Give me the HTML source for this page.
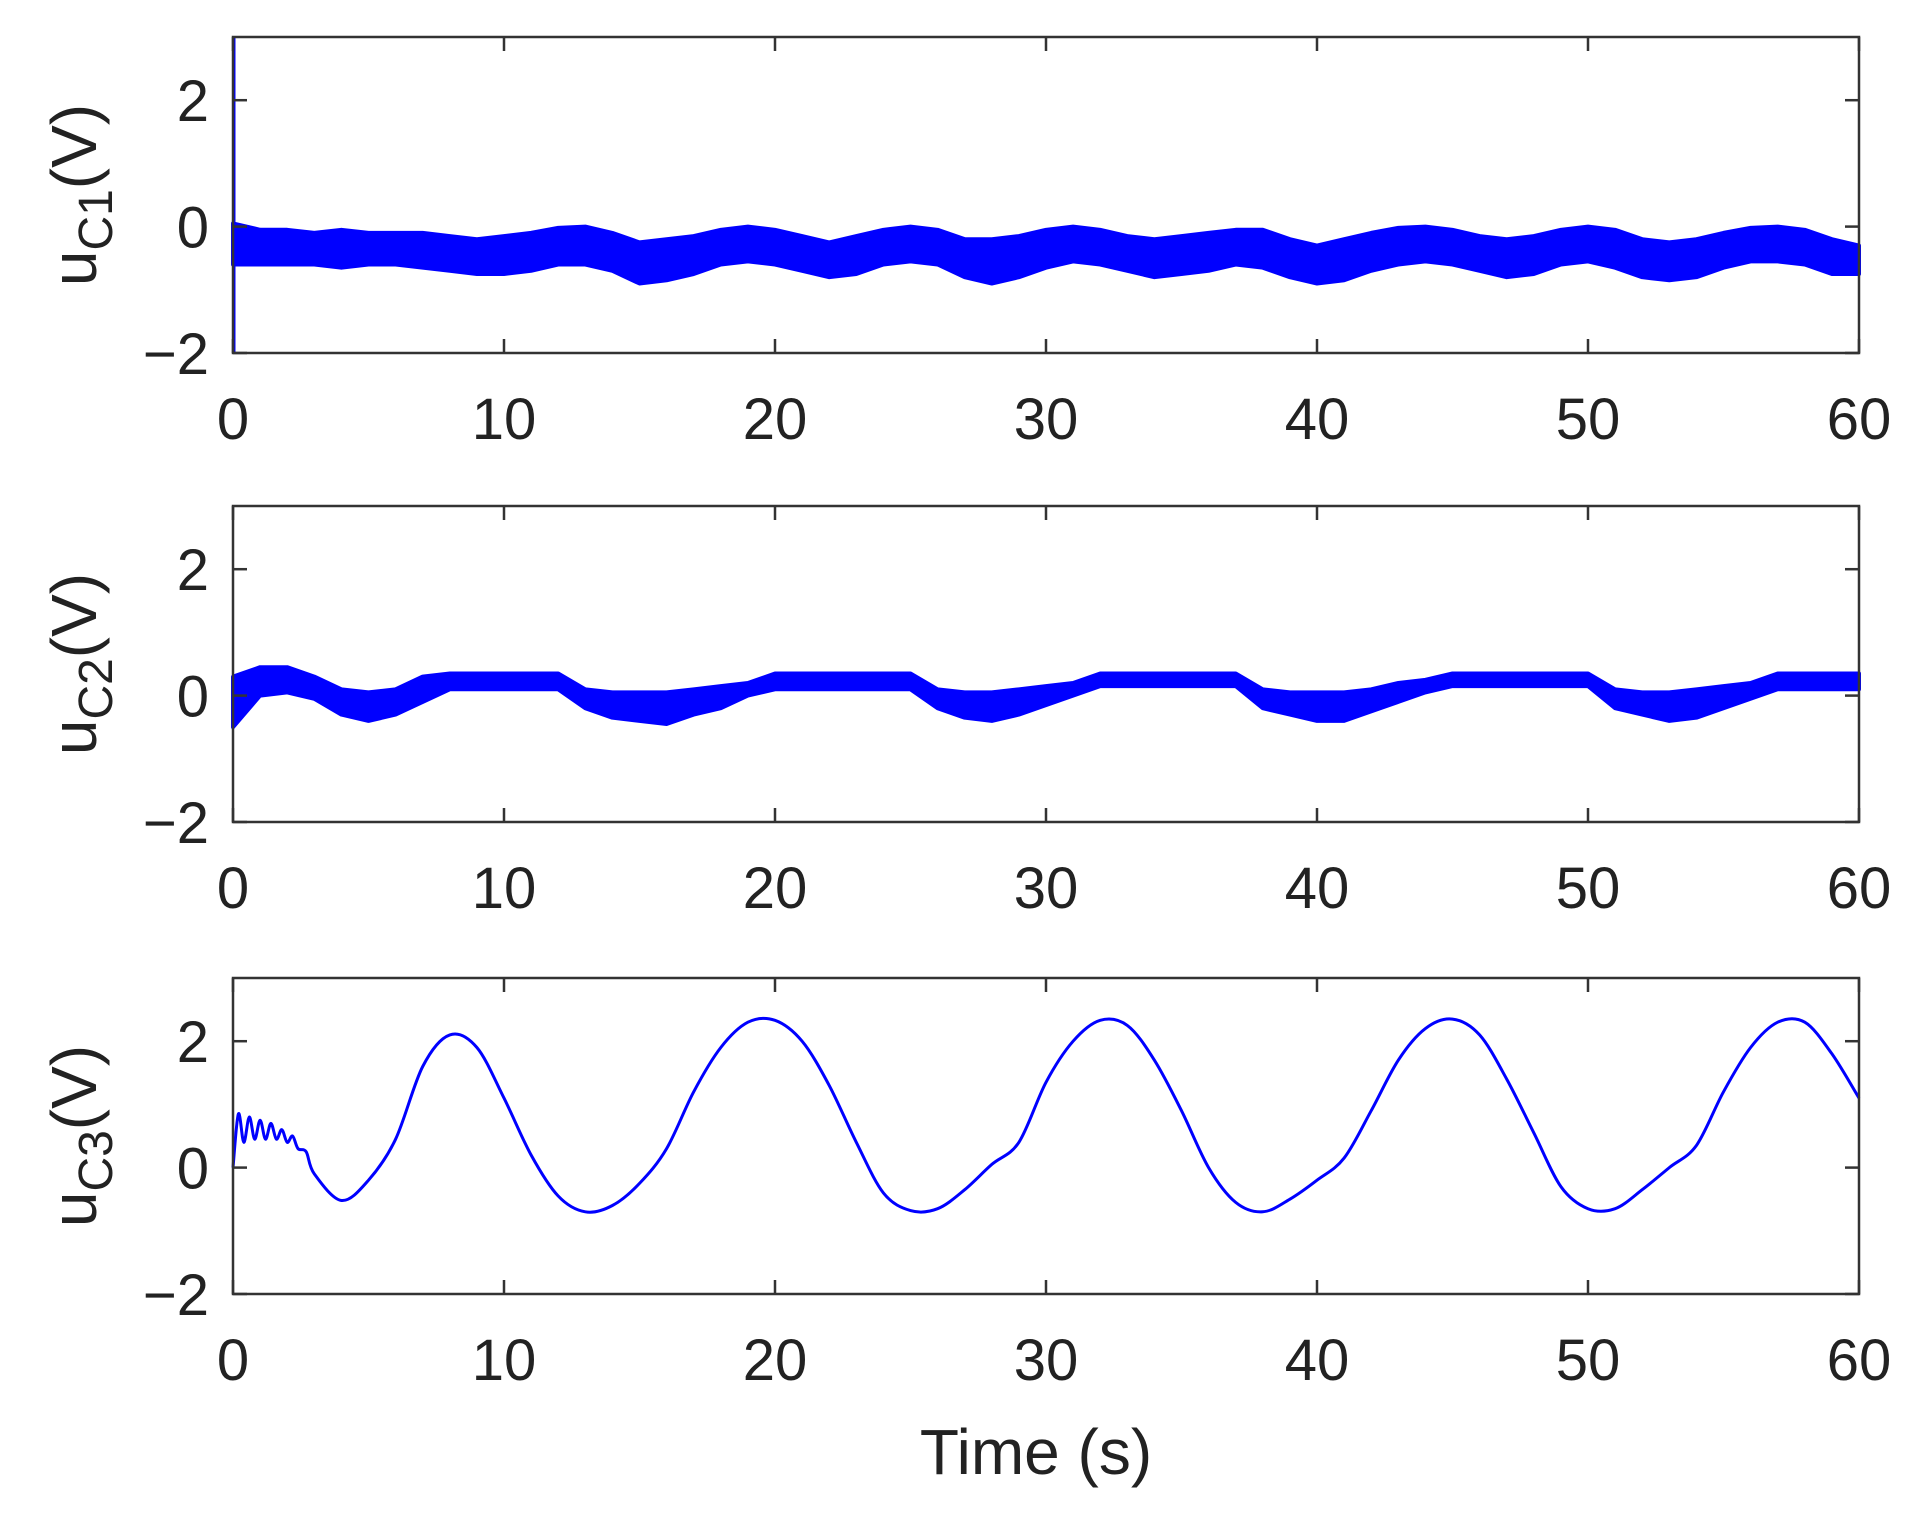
<!DOCTYPE html>
<html><head><meta charset="utf-8">
<style>
body{margin:0;background:#fff;}
svg{display:block;font-family:"Liberation Sans",Arial,sans-serif;}
</style></head>
<body>
<svg id="chart" width="1921" height="1522" viewBox="0 0 1921 1522" xmlns="http://www.w3.org/2000/svg"></svg>
<script>
const xTicks=[0,10,20,30,40,50,60];
const yTicks=[-2,0,2];
const tBand=[0,1,2,3,4,5,6,7,8,9,10,11,12,13,14,15,16,17,18,19,20,21,22,23,24,25,26,27,28,29,30,31,32,33,34,35,36,37,38,39,40,41,42,43,44,45,46,47,48,49,50,51,52,53,54,55,56,57,58,59,60];
const u1Upper=[0.05,-0.05,-0.05,-0.1,-0.05,-0.1,-0.1,-0.1,-0.15,-0.2,-0.15,-0.1,-0.02,0,-0.1,-0.25,-0.2,-0.15,-0.05,0,-0.05,-0.15,-0.25,-0.15,-0.05,0,-0.05,-0.2,-0.2,-0.15,-0.05,0,-0.05,-0.15,-0.2,-0.15,-0.1,-0.05,-0.05,-0.2,-0.3,-0.2,-0.1,-0.02,0,-0.05,-0.15,-0.2,-0.15,-0.05,0,-0.05,-0.2,-0.25,-0.2,-0.1,-0.02,0,-0.05,-0.2,-0.3];
const u1Lower=[-0.6,-0.6,-0.6,-0.6,-0.65,-0.6,-0.6,-0.65,-0.7,-0.75,-0.75,-0.7,-0.6,-0.6,-0.7,-0.9,-0.85,-0.75,-0.6,-0.55,-0.6,-0.7,-0.8,-0.75,-0.6,-0.55,-0.6,-0.8,-0.9,-0.8,-0.65,-0.55,-0.6,-0.7,-0.8,-0.75,-0.7,-0.6,-0.65,-0.8,-0.9,-0.85,-0.7,-0.6,-0.55,-0.6,-0.7,-0.8,-0.75,-0.6,-0.55,-0.65,-0.8,-0.85,-0.8,-0.65,-0.55,-0.55,-0.6,-0.75,-0.75];
const u2Upper=[0.3,0.45,0.45,0.3,0.1,0.05,0.1,0.3,0.35,0.35,0.35,0.35,0.35,0.1,0.05,0.05,0.05,0.1,0.15,0.2,0.35,0.35,0.35,0.35,0.35,0.35,0.1,0.05,0.05,0.1,0.15,0.2,0.35,0.35,0.35,0.35,0.35,0.35,0.1,0.05,0.05,0.05,0.1,0.2,0.25,0.35,0.35,0.35,0.35,0.35,0.35,0.1,0.05,0.05,0.1,0.15,0.2,0.35,0.35,0.35,0.35];
const u2Lower=[-0.5,0.0,0.05,-0.05,-0.3,-0.4,-0.3,-0.1,0.1,0.1,0.1,0.1,0.1,-0.2,-0.35,-0.4,-0.45,-0.3,-0.2,0.0,0.1,0.1,0.1,0.1,0.1,0.1,-0.2,-0.35,-0.4,-0.3,-0.15,0.0,0.15,0.15,0.15,0.15,0.15,0.15,-0.2,-0.3,-0.4,-0.4,-0.25,-0.1,0.05,0.15,0.15,0.15,0.15,0.15,0.15,-0.2,-0.3,-0.4,-0.35,-0.2,-0.05,0.1,0.1,0.1,0.1];
const t3=[0,0.2,0.4,0.6,0.8,1.0,1.2,1.4,1.6,1.8,2.0,2.2,2.4,2.7,3,4,5,6,7,8,9,10,11,12,13,14,15,16,17,18,19,20,21,22,23,24,25,26,27,28,29,30,31,32,33,34,35,36,37,38,39,40,41,42,43,44,45,46,47,48,49,50,51,52,53,54,55,56,57,58,59,60];
const u3=[0,0.85,0.4,0.8,0.45,0.75,0.45,0.7,0.45,0.6,0.4,0.5,0.3,0.25,-0.1,-0.52,-0.2,0.45,1.6,2.1,1.9,1.1,0.2,-0.45,-0.7,-0.6,-0.25,0.3,1.2,1.9,2.3,2.33,2.0,1.3,0.4,-0.4,-0.68,-0.65,-0.35,0.05,0.4,1.35,2.0,2.33,2.25,1.7,0.9,0.0,-0.55,-0.7,-0.5,-0.2,0.15,0.9,1.7,2.2,2.35,2.1,1.4,0.55,-0.3,-0.65,-0.65,-0.35,0.0,0.35,1.2,1.9,2.3,2.3,1.8,1.1];

const svg=document.getElementById('chart');
const NS='http://www.w3.org/2000/svg';
const L=233,R=1859,tops=[37,506,978],H=316;
function mk(tag,attrs,parent){const e=document.createElementNS(NS,tag);for(const k in attrs)e.setAttribute(k,attrs[k]);(parent||svg).appendChild(e);return e;}
function xs(t){return L+(t/60)*(R-L);}
function ysF(top){return v=>top+(3-v)/5*H;}

function catmull(pts){
  let d='M'+pts[0][0]+','+pts[0][1];
  for(let i=0;i<pts.length-1;i++){
    const p0=pts[Math.max(0,i-1)],p1=pts[i],p2=pts[i+1],p3=pts[Math.min(pts.length-1,i+2)];
    const c1=[p1[0]+(p2[0]-p0[0])/6,p1[1]+(p2[1]-p0[1])/6];
    const c2=[p2[0]-(p3[0]-p1[0])/6,p2[1]-(p3[1]-p1[1])/6];
    d+=' C'+c1[0].toFixed(1)+','+c1[1].toFixed(1)+' '+c2[0].toFixed(1)+','+c2[1].toFixed(1)+' '+p2[0].toFixed(1)+','+p2[1].toFixed(1);
  }
  return d;
}

const names=['uC1','uC2','uC3'];
tops.forEach((top,pi)=>{
  const ys=ysF(top);
  const g=mk('g',{});
  
  
  if(pi<2){
    const up=pi===0?u1Upper:u2Upper, lo=pi===0?u1Lower:u2Lower;
    const ptsU=tBand.map((t,i)=>[xs(t),ys(up[i])]);
    const ptsL=tBand.map((t,i)=>[xs(t),ys(lo[i])]).reverse();
    const p=mk('path',{d:'M'+ptsU.map(p=>p[0].toFixed(1)+','+p[1].toFixed(1)).join(' L')+' L'+ptsL.map(p=>p[0].toFixed(1)+','+p[1].toFixed(1)).join(' L')+' Z',fill:'#0000ff',stroke:'#0000ff','stroke-width':4,'stroke-linejoin':'round'},g);
    
    
    if(pi===0){
      const s=mk('line',{x1:xs(0)+1,x2:xs(0)+1,y1:ys(3),y2:ys(-2),stroke:'#0000ff','stroke-width':3},g);
      
      
    }
  } else {
    const pts=t3.map((t,i)=>[xs(t),ys(u3[i])]);
    const p=mk('path',{d:catmull(pts),fill:'none',stroke:'#0000ff','stroke-width':3},g);
    
    
  }
  const f=mk('rect',{x:L,y:top,width:R-L,height:H,fill:'none',stroke:'#333','stroke-width':2.5},g);
  
  
  xTicks.forEach(t=>{
    mk('line',{x1:xs(t),x2:xs(t),y1:top+H,y2:top+H-14,stroke:'#333','stroke-width':2.5},g);
    mk('line',{x1:xs(t),x2:xs(t),y1:top,y2:top+14,stroke:'#333','stroke-width':2.5},g);
    const tx=mk('text',{x:xs(t),y:top+H+86,'font-size':58,'text-anchor':'middle',fill:'#222'},g);
    tx.textContent=t;
    
    
  });
  yTicks.forEach(v=>{
    mk('line',{x1:L,x2:L+14,y1:ys(v),y2:ys(v),stroke:'#333','stroke-width':2.5},g);
    mk('line',{x1:R,x2:R-14,y1:ys(v),y2:ys(v),stroke:'#333','stroke-width':2.5},g);
    const tx=mk('text',{x:L-24,y:ys(v)+21,'font-size':58,'text-anchor':'end',fill:'#222'},g);
    tx.textContent=v<0?'\u2212'+Math.abs(v):v;
    
    
  });
  const yl=mk('text',{transform:'translate(96,'+(top+H/2)+') rotate(-90)','font-size':64,'text-anchor':'middle',fill:'#222'},g);
  yl.innerHTML='u<tspan font-size="48" dy="16">C'+(pi+1)+'</tspan><tspan dy="-16">(V)</tspan>';
  
  
});
const xl=mk('text',{x:1036,y:1474,'font-size':64,'text-anchor':'middle',fill:'#222'});
xl.textContent='Time (s)';


</script>
</body></html>
